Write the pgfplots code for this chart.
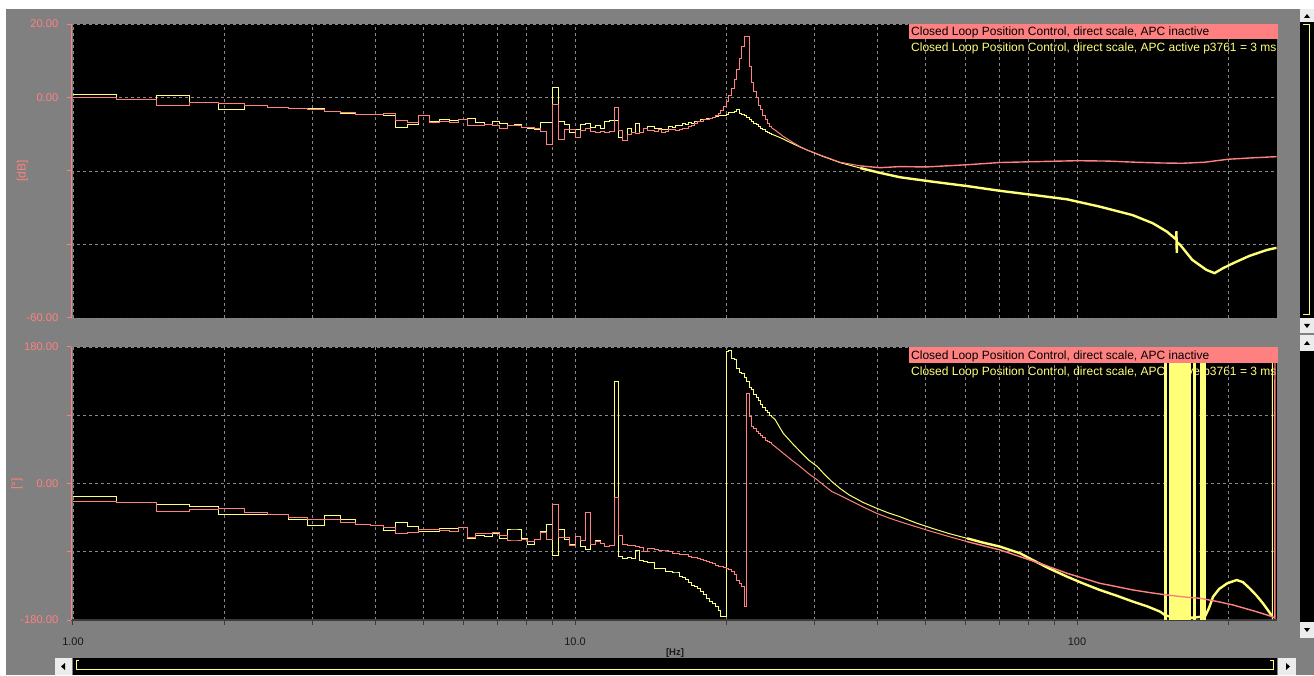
\documentclass[border=0pt]{standalone}
\usepackage{pgfplots}
\pgfplotsset{compat=1.18}
\usepackage{pgfplotstable}
\usepackage{fontspec}
\setmainfont{Liberation Sans}
\definecolor{pinkc}{RGB}{255,128,128}
\definecolor{ylw}{RGB}{255,255,120}
\definecolor{wingray}{RGB}{128,128,128}
\definecolor{gridc}{RGB}{135,135,135}
\definecolor{axdark}{RGB}{60,60,60}
\definecolor{btn}{RGB}{236,236,236}

% low-frequency bins (0.2441 Hz spacing): f, magnitude red/yellow [dB], phase red/yellow [deg]
\pgfplotstableread{
f        mR     mY     pR      pY
1.0000   0.0    0.76   -24.0   -16.5
1.2207  -0.6   -0.6    -25.3   -25.3
1.4648  -2.1    0.5    -36.3   -27.5
1.7090  -1.3   -1.3    -34.0   -30.6
1.9531  -1.5   -3.4    -32.7   -40.6
2.1973  -2.1   -2.1    -38.5   -41.5
2.4414  -2.6   -2.6    -40.6   -41.5
2.6855  -3.0   -3.0    -45.0   -48.0
2.9297  -3.3   -2.9    -48.0   -56.0
3.1738  -3.9   -3.9    -48.0   -42.5
3.4180  -4.1   -4.3    -51.7   -47.3
3.6621  -4.6   -4.6    -53.8   -53.8
3.9063  -4.5   -4.6    -55.6   -55.6
4.1504  -4.4   -5.0    -58.3   -62.6
4.3945  -6.3   -8.1    -65.7   -51.7
4.6387  -6.7   -7.3    -64.4   -57.0
4.8828  -4.9   -4.9    -61.3   -63.5
5.1270  -6.7   -6.4    -60.4   -63.5
5.3711  -6.5   -6.0    -62.6   -59.0
5.6152  -6.9   -6.3    -63.5   -59.0
5.8594  -5.9   -5.9    -58.3   -58.3
6.1035  -7.6   -5.8    -71.5   -72.3
6.3477  -7.6   -6.7    -65.7   -68.0
6.5918  -7.3   -7.3    -66.4   -70.2
6.8359  -7.6   -6.4    -64.8   -65.7
7.0801  -8.4   -7.1    -69.2   -72.3
7.3242  -7.7   -7.7    -75.8   -61.3
7.5684  -7.5   -7.4    -75.8   -61.3
7.8125  -8.2   -8.2    -74.5   -72.3
8.0566  -8.2   -8.4    -76.7   -81.0
8.3008  -8.4   -8.8    -74.5   -74.5
8.5449  -9.3   -6.7    -64.8   -63.5
8.7891  -12.9  -6.7    -74.5   -53.8
9.0332  -1.9    2.7    -27.5   -94.3
9.2773  -11.4  -6.6    -71.5   -60.4
9.5215  -8.8   -7.3    -71.5   -73.6
9.7656  -8.6   -9.6    -82.4   -81.0
10.0098 -10.8  -8.8    -70.2   -70.2
10.2539 -9.1   -7.3    -75.8   -83.3
10.4980 -8.4   -7.0    -38.5   -86.8
10.7422 -9.2   -8.1    -79.8   -79.8
10.9863 -9.5   -7.6    -76.0   -75.0
11.2305 -9.2   -8.4    -79.0   -79.0
11.4746 -9.5   -6.4    -83.0   -83.0
11.7188 -9.2   -6.2    -82.0   -82.0
11.9629 -2.7   -6.2    -18.7   134.3
12.2070 -9.1   -10.8   -68.0   -96.5
12.4512 -11.8  -11.8   -81.0   -98.6
12.6953 -10.0  -8.3    -81.5   -97.0
12.9395 -9.5   -9.5    -82.0   -98.6
13.1836 -9.8   -7.0    -83.0   -87.7
13.4277 -9.4   -9.4    -84.0   -100.9
13.6719 -8.5   -8.3    -90.0   -103.1
13.9160 -9.1   -8.0    -85.5   -104.2
14.1602 -9.0   -8.0    -85.5   -104.2
14.4043 -9.3   -8.4    -87.0   -111.9
14.6484 -8.8   -8.3    -88.0   -111.9
14.8926 -9.4   -8.6    -89.0   -112.0
15.1367 -9.2   -8.8    -89.0   -116.3
15.3809 -8.7   -8.0    -90.0   -116.3
15.6250 -8.6   -8.2    -92.0   -118.0
15.8691 -9.0   -7.6    -92.0   -118.0
16.1133 -8.8   -7.6    -93.0   -122.0
16.3574 -8.4   -7.0    -94.0   -124.0
16.6016 -8.3   -7.3    -94.0   -127.0
16.8457 -8.0   -6.8    -96.0   -130.0
17.0898 -7.6   -7.0    -97.0   -133.9
17.3340 -7.0   -6.5    -98.0   -136.0
17.5781 -6.6   -6.4    -98.6   -138.0
17.8223 -6.4   -6.0    -100.0  -142.0
18.0664 -6.1   -6.1    -101.0  -147.0
18.3105 -6.0   -5.8    -103.0  -151.4
18.5547 -5.8   -5.6    -104.0  -155.0
18.7988 -5.4   -5.5    -106.0  -158.0
19.0430 -5.0   -5.2    -108.0  -162.4
19.2871 -4.4   -5.0    -109.7  -168.0
19.5313 -3.5   -4.8    -110.0  -175.6
19.7754 -2.5   -4.8    -111.0  -175.6
20.0195 -1.0   -4.6    -112.0  173.8
20.2637  0.5   -4.2    -114.0  175.0
20.5078  2.5   -4.0    -116.3  165.0
20.7520  4.8   -3.9    -120.0  163.0
20.9961  7.5   -3.4    -127.3  152.0
21.2402 10.7   -4.4    -132.0  147.0
21.4844 14.0   -4.6    -136.0  145.0
21.7285 16.5   -5.0    -162.4  140.0
21.9727 16.5   -5.5    119.0   135.0
22.2168  8.5   -6.0    88.0    127.0
22.4609  4.0   -6.5    75.0    124.0
22.7051  1.5   -7.0    72.0    118.0
22.9492  0.0   -7.4    68.0    114.0
23.1934 -2.2   -7.9    66.0    110.0
23.4375 -3.4   -8.3    63.0    104.0
23.6816 -5.0   -8.7    60.0    100.0
23.9258 -6.0   -9.2    57.0    96.0
24.1699 -7.0   -9.5    56.0    93.0
24.4141 -8.0   -9.8    54.0    90.0
24.6582 -8.3   -10.0   52.0    88.0
}\lowtab

\begin{document}
\begin{tikzpicture}
\useasboundingbox (0pt,0pt) rectangle (1314pt,675pt);
\fill[white] (0pt,0pt) rectangle (1314pt,675pt);
\fill[wingray] (6pt,0pt) rectangle (1314pt,666pt);
% plot areas
\fill[black] (73pt,357pt) rectangle (1276.5pt,651pt);
\fill[black] (73pt,55pt) rectangle (1276.5pt,328pt);
% second legend lines (drawn under the data)
\node[anchor=base west, inner sep=0pt, text=ylw, font=\fontsize{12}{14}\selectfont] at (911pt,623.3pt) {Closed Loop Position Control, direct scale, APC active p3761 = 3 ms};
\node[anchor=base west, inner sep=0pt, text=ylw, font=\fontsize{12}{14}\selectfont] at (911pt,299.5pt) {Closed Loop Position Control, direct scale, APC active p3761 = 3 ms};

% ---------------- magnitude ----------------
\begin{axis}[at={(71pt,357pt)}, anchor=south west, scale only axis, width=1205.5pt, height=294pt,
  xmode=log, xmin=0.99087, xmax=249.7,
  separate axis lines, axis x line*=bottom, axis y line*=left,
  y axis line style={pinkc, line width=1pt, -},
  ytick style={pinkc, line width=1pt},
  tick align=outside, major tick length=4.5pt, minor tick length=4.5pt,
  yticklabel style={text=pinkc, font=\fontsize{11.2}{13}\selectfont, anchor=east, inner sep=0pt, xshift=-8pt},
  grid=both,
  major grid style={gridc, dash pattern=on 3pt off 3pt, line width=0.9pt},
  minor grid style={gridc, dash pattern=on 3pt off 3pt, line width=0.9pt},
  xtick={1,10,100}, minor xtick={2,3,4,5,6,7,8,9,20,30,40,50,60,70,80,90,200},
  ymin=-60, ymax=20, ytick={-60,-40,-20,0,20}, yticklabels={-60.00,,,0.00,20.00},
  x axis line style={draw=none}, xticklabels={}, xtick style={draw=none}, minor x tick style={draw=none}]
\addplot[ylw, line width=1pt, const plot] table[x=f, y=mY] {\lowtab};
\addplot[ylw, line width=1pt] coordinates {(24.6582,-10.0) (25.0,-10.3) (26.0,-11.3) (27.0,-12.4) (28.0,-13.4) (29.0,-14.3) (31.0,-15.9) (33.7,-17.7) (37.0,-19.2)};
\addplot[ylw, line width=2.4pt] coordinates {(37.0,-19.2) (40.5,-20.5) (44.4,-21.7) (51.5,-22.9) (60.4,-24.1) (70.3,-25.4) (81.6,-26.5) (95.5,-27.7) (111.0,-29.7) (129.0,-32.0) (141.5,-34.2) (151.0,-36.5) (157.5,-38.6) (157.8,-36.4) (158.0,-42.3) (158.3,-39.4) (160.5,-40.1) (169.7,-44.2) (181.0,-46.9) (188.0,-47.8) (195.0,-46.5) (204.6,-45.1) (220.5,-43.1) (238.8,-41.5) (249.7,-40.9)};
\addplot[pinkc, line width=1pt, const plot] table[x=f, y=mR] {\lowtab};
\addplot[pinkc, line width=1pt] coordinates {(24.6582,-8.3) (25.0,-8.8) (26.0,-10.6) (27.0,-12.0) (28.0,-13.3) (29.0,-14.3) (31.0,-15.8) (33.7,-17.6) (37.0,-18.6)};
\addplot[pinkc, line width=1.4pt] coordinates {(37.0,-18.6) (40.5,-19.1) (44.4,-18.8) (50.0,-18.9) (55.0,-18.6) (60.4,-18.3) (70.0,-17.7) (80.0,-17.5) (100.0,-17.2) (115.0,-17.3) (130.0,-17.6) (145.0,-17.8) (162.0,-17.9) (180.0,-17.6) (200.0,-16.8) (225.0,-16.4) (249.7,-16.1)};
\end{axis}

% ---------------- phase ----------------
\begin{axis}[at={(71pt,55pt)}, anchor=south west, scale only axis, width=1205.5pt, height=273pt,
  xmode=log, xmin=0.99087, xmax=249.7,
  separate axis lines, axis x line*=bottom, axis y line*=left,
  y axis line style={pinkc, line width=1pt, -},
  ytick style={pinkc, line width=1pt},
  tick align=outside, major tick length=4.5pt, minor tick length=4.5pt,
  yticklabel style={text=pinkc, font=\fontsize{11.2}{13}\selectfont, anchor=east, inner sep=0pt, xshift=-8pt},
  grid=both,
  major grid style={gridc, dash pattern=on 3pt off 3pt, line width=0.9pt},
  minor grid style={gridc, dash pattern=on 3pt off 3pt, line width=0.9pt},
  xtick={1,10,100}, minor xtick={2,3,4,5,6,7,8,9,20,30,40,50,60,70,80,90,200},
  ymin=-180, ymax=180, ytick={-180,-90,0,90,180}, yticklabels={-180.00,,0.00,,180.00},
  x axis line style={axdark, line width=1.6pt, -},
  xtick style={axdark, line width=1pt}, minor x tick style={axdark, line width=1pt},
  xticklabels={1.00,10.0,100},
  xticklabel style={text=black!90, font=\fontsize{11}{13}\selectfont, anchor=north, inner sep=0pt, yshift=-13pt}]
\addplot[ylw, line width=1pt, const plot] table[x=f, y=pY] {\lowtab};
\addplot[ylw, line width=1pt] coordinates {(24.6582,88) (25.0,85) (26.0,66) (27.0,54) (28.1,42) (29.2,31) (30.4,22.2) (31.4,12) (32.5,2.4) (33.8,-7) (35.2,-15.2) (37.5,-25) (39.9,-32.7) (42.0,-38.5) (44.4,-43.8) (47.8,-52) (51.4,-59) (55.6,-66) (60.4,-72.3)};
\addplot[ylw, line width=2.4pt] coordinates {(60.4,-72.3) (65.0,-78) (70.3,-83.3) (77.0,-92) (81.6,-100.9) (88.0,-112) (95.5,-122.8) (103.0,-132) (111.0,-140.4) (120.0,-148) (129.3,-155.8) (138.0,-162) (146.4,-169) (149.3,-173) (152.0,-175) (155.0,-176) (160.0,-177) (165.0,-176) (170.0,-177) (175.0,-176) (180.0,-175) (183.0,-165) (186.7,-149.2) (192.0,-139) (199.2,-131.6) (208.0,-127.3) (214.0,-130) (220.5,-138) (228.0,-148) (234.6,-158) (240.0,-167) (245.0,-175.5)};
\addplot[ylw, line width=1pt] coordinates {(245.0,-175.5) (245.1,-179) (245.1,179) (245.3,179)};
% phase-wrap bands
\addplot[ylw, fill=ylw, line width=0.6pt] coordinates {(149.3,-179.5) (149.3,179.5) (150.4,179.5) (150.4,-179.5)};
\addplot[ylw, fill=ylw, line width=0.6pt] coordinates {(152.7,-179.5) (152.7,179.5) (153.9,179.5) (153.9,-179.5)};
\addplot[ylw, fill=ylw, line width=0.6pt] coordinates {(155.1,-179.5) (155.1,179.5) (164.1,179.5) (164.1,-179.5)};
\addplot[ylw, fill=ylw, line width=0.6pt] coordinates {(165.4,-179.5) (165.4,179.5) (168.0,179.5) (168.0,-179.5)};
\addplot[ylw, fill=ylw, line width=0.6pt] coordinates {(170.1,-179.5) (170.1,179.5) (171.8,179.5) (171.8,-179.5)};
\addplot[ylw, fill=ylw, line width=0.6pt] coordinates {(175.8,-179.5) (175.8,179.5) (176.6,179.5) (176.6,-179.5)};
\addplot[ylw, fill=ylw, line width=0.6pt] coordinates {(178.0,-179.5) (178.0,179.5) (179.9,179.5) (179.9,-179.5)};
\addplot[pinkc, line width=1pt, const plot] table[x=f, y=pR] {\lowtab};
\addplot[pinkc, line width=1pt] coordinates {(24.6582,52) (25.0,49) (26.0,39.8) (27.0,31) (28.1,22.2) (29.2,13) (30.4,4.6) (31.4,-3) (32.5,-10.8) (33.8,-16) (35.2,-21.8) (37.5,-31) (39.9,-39.3) (42.0,-45) (44.4,-50.4) (47.8,-57) (51.4,-63.5) (55.6,-70) (60.4,-76.7)};
\addplot[pinkc, line width=1.4pt] coordinates {(60.4,-76.7) (65.0,-82) (70.3,-87.7) (77.0,-96.5) (85.0,-106) (95.5,-118.4) (103.0,-125) (111.0,-131.6) (120.0,-136) (129.3,-140.4) (140.0,-144) (151.0,-147) (163.0,-149.5) (175.9,-151.4) (190.0,-155.5) (204.6,-160.2) (225.0,-168) (245.0,-175.6) (247.8,-177.5) (247.9,179) (249.7,179)};
\end{axis}

% legends (first line on pink)
\fill[pinkc] (908.5pt,635.7pt) rectangle (1277.8pt,651pt);
\node[anchor=base west, inner sep=0pt, text=black, font=\fontsize{12}{14}\selectfont] at (911pt,639.3pt) {Closed Loop Position Control, direct scale, APC inactive};
\fill[pinkc] (908.5pt,311.5pt) rectangle (1277.8pt,328pt);
\node[anchor=base west, inner sep=0pt, text=black, font=\fontsize{12}{14}\selectfont] at (911pt,315.3pt) {Closed Loop Position Control, direct scale, APC inactive};

% axis titles
\node[rotate=90, text=pinkc, font=\fontsize{12}{14}\selectfont] at (22.5pt,504pt) {[dB]};
\node[rotate=90, text=pinkc, font=\fontsize{12}{14}\selectfont] at (17pt,191pt) {[°]};
\node[text=black!90, font=\bfseries\fontsize{9.5}{11}\selectfont] at (675pt,22pt) {[Hz]};

% right scroll bars
\fill[btn] (1300pt,653pt) rectangle (1314pt,666pt);
\fill[black] (1304pt,657pt) -- (1310pt,657pt) -- (1307pt,661pt) -- cycle;
\fill[black] (1300pt,357pt) rectangle (1314pt,653pt);
\draw[ylw, line width=1pt] (1303pt,650pt) -- (1309pt,650pt) -- (1309pt,360pt) -- (1303pt,360pt);
\fill[btn] (1300pt,342pt) rectangle (1314pt,357pt);
\fill[black] (1304pt,351pt) -- (1310pt,351pt) -- (1307pt,347pt) -- cycle;
\fill[btn] (1300pt,324pt) rectangle (1314pt,340pt);
\fill[black] (1304pt,330pt) -- (1310pt,330pt) -- (1307pt,334pt) -- cycle;
\fill[black] (1300pt,53pt) rectangle (1314pt,324pt);
\fill[btn] (1300pt,37pt) rectangle (1314pt,53pt);
\fill[black] (1304pt,47pt) -- (1310pt,47pt) -- (1307pt,43pt) -- cycle;
% bottom scroll bar
\fill[btn] (55pt,0pt) rectangle (72pt,17pt);
\fill[black] (61pt,8.5pt) -- (65pt,5pt) -- (65pt,12pt) -- cycle;
\fill[black] (73pt,0pt) rectangle (1277pt,17pt);
\draw[ylw, line width=1pt] (79pt,15pt) -- (76pt,15pt) -- (76pt,6pt) -- (1273pt,6pt) -- (1273pt,15pt) -- (1270pt,15pt);
\fill[btn] (1278pt,0pt) rectangle (1296pt,17pt);
\fill[black] (1290pt,8.5pt) -- (1286pt,5pt) -- (1286pt,12pt) -- cycle;
\end{tikzpicture}
\end{document}
